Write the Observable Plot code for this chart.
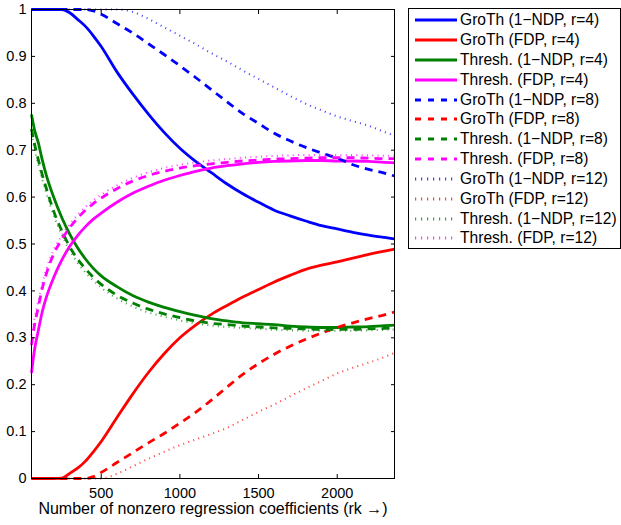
<!DOCTYPE html>
<html>
<head>
<meta charset="utf-8">
<script src="https://cdn.jsdelivr.net/npm/d3@7"></script>
<script src="https://cdn.jsdelivr.net/npm/@observablehq/plot@0.6"></script>
<style>
  html, body { margin: 0; padding: 0; background: white; }
  #wrap { position: relative; width: 621px; height: 525px; overflow: hidden; font-family: "Liberation Sans", Arial, sans-serif; }
  #legend { position: absolute; left: 408px; top: 8px; width: 213px; height: 241px; box-sizing: border-box; border: 1px solid black; background: white; overflow: hidden; }
  .row { position: absolute; left: 0; height: 20px; white-space: nowrap; }
  .row svg { display: block; position: absolute; left: 0; top: 0; }
  .row span { font-size: 15.6px; color: black; position: absolute; left: 51px; top: 0; line-height: 20px; }
</style>
</head>
<body>
<div id="wrap">
  <div id="chart"></div>
  <div id="legend"></div>
</div>
<script>
// x positions (number of nonzero regression coefficients)
const xGrid = [57, 75, 100, 125, 150, 200, 250, 300, 350, 400, 450, 500, 600, 700, 800, 900, 1000, 1100, 1200, 1300, 1400, 1500, 1600, 1700, 1800, 1900, 2000, 2100, 2200, 2300, 2364];

// r = 4
const grothNdp4   = [1, 1, 1, 1, 1, 1, 1, 0.993, 0.979, 0.964, 0.944, 0.921, 0.867, 0.82, 0.777, 0.738, 0.704, 0.676, 0.652, 0.628, 0.607, 0.589, 0.572, 0.56, 0.549, 0.539, 0.532, 0.525, 0.519, 0.514, 0.511];
const grothFdp4   = [0, 0, 0, 0, 0, 0, 0.001, 0.011, 0.022, 0.037, 0.057, 0.079, 0.13, 0.18, 0.226, 0.266, 0.3, 0.327, 0.35, 0.369, 0.387, 0.403, 0.419, 0.433, 0.446, 0.455, 0.462, 0.47, 0.478, 0.485, 0.489];
const threshNdp4  = [0.776, 0.745, 0.716, 0.68, 0.648, 0.598, 0.556, 0.521, 0.492, 0.468, 0.448, 0.432, 0.409, 0.39, 0.376, 0.365, 0.356, 0.348, 0.341, 0.336, 0.332, 0.33, 0.328, 0.325, 0.323, 0.322, 0.322, 0.323, 0.324, 0.326, 0.327];
const threshFdp4  = [0.225, 0.272, 0.315, 0.355, 0.385, 0.43, 0.466, 0.495, 0.518, 0.537, 0.553, 0.566, 0.589, 0.608, 0.623, 0.636, 0.646, 0.655, 0.662, 0.667, 0.671, 0.674, 0.676, 0.677, 0.678, 0.678, 0.677, 0.677, 0.676, 0.674, 0.673];
// r = 8
const grothNdp8   = [1, 1, 1, 1, 1, 1, 1, 1, 1, 1, 0.997, 0.99, 0.97, 0.95, 0.927, 0.904, 0.88, 0.855, 0.829, 0.803, 0.778, 0.757, 0.736, 0.72, 0.706, 0.694, 0.683, 0.669, 0.659, 0.651, 0.645];
const grothFdp8   = [0, 0, 0, 0, 0, 0, 0, 0, 0, 0, 0.004, 0.013, 0.034, 0.055, 0.076, 0.096, 0.118, 0.141, 0.167, 0.195, 0.222, 0.245, 0.265, 0.282, 0.297, 0.31, 0.322, 0.332, 0.341, 0.349, 0.355];
const threshNdp8  = [0.745, 0.715, 0.68, 0.648, 0.62, 0.568, 0.528, 0.494, 0.468, 0.447, 0.429, 0.414, 0.391, 0.374, 0.361, 0.351, 0.343, 0.336, 0.331, 0.328, 0.325, 0.323, 0.321, 0.32, 0.319, 0.318, 0.318, 0.318, 0.319, 0.32, 0.321];
const threshFdp8  = [0.285, 0.325, 0.365, 0.405, 0.435, 0.48, 0.51, 0.535, 0.555, 0.572, 0.586, 0.598, 0.618, 0.634, 0.646, 0.655, 0.662, 0.667, 0.671, 0.674, 0.677, 0.679, 0.681, 0.682, 0.683, 0.684, 0.684, 0.684, 0.683, 0.682, 0.682];
// r = 12
const grothNdp12  = [1, 1, 1, 1, 1, 1, 1, 1, 1, 1, 1, 1, 1, 0.995, 0.98, 0.962, 0.944, 0.926, 0.907, 0.889, 0.87, 0.852, 0.834, 0.816, 0.799, 0.785, 0.772, 0.762, 0.752, 0.739, 0.731];
const grothFdp12  = [0, 0, 0, 0, 0, 0, 0, 0, 0, 0, 0, 0, 0.01, 0.026, 0.042, 0.057, 0.071, 0.083, 0.095, 0.108, 0.125, 0.142, 0.158, 0.175, 0.192, 0.208, 0.224, 0.236, 0.247, 0.259, 0.268];
const threshNdp12 = [0.735, 0.705, 0.67, 0.638, 0.61, 0.559, 0.519, 0.486, 0.46, 0.439, 0.422, 0.407, 0.384, 0.367, 0.354, 0.345, 0.337, 0.331, 0.326, 0.323, 0.321, 0.319, 0.317, 0.316, 0.315, 0.315, 0.315, 0.315, 0.316, 0.317, 0.318];
const threshFdp12 = [0.305, 0.34, 0.378, 0.415, 0.445, 0.489, 0.518, 0.542, 0.562, 0.579, 0.593, 0.605, 0.625, 0.641, 0.653, 0.662, 0.669, 0.674, 0.678, 0.681, 0.684, 0.686, 0.688, 0.689, 0.69, 0.69, 0.69, 0.69, 0.689, 0.688, 0.688];

const seriesNames = [
  "GroTh (1−NDP, r=4)", "GroTh (FDP, r=4)", "Thresh. (1−NDP, r=4)", "Thresh. (FDP, r=4)",
  "GroTh (1−NDP, r=8)", "GroTh (FDP, r=8)", "Thresh. (1−NDP, r=8)", "Thresh. (FDP, r=8)",
  "GroTh (1−NDP, r=12)", "GroTh (FDP, r=12)", "Thresh. (1−NDP, r=12)", "Thresh. (FDP, r=12)"
];
const seriesValues = [grothNdp4, grothFdp4, threshNdp4, threshFdp4, grothNdp8, grothFdp8, threshNdp8, threshFdp8, grothNdp12, grothFdp12, threshNdp12, threshFdp12];
const seriesColors = ["#0000ff", "#ff0000", "#008000", "#ff00ff"];

const xTicks = [500, 1000, 1500, 2000];
const yTicks = [0, 0.1, 0.2, 0.3, 0.4, 0.5, 0.6, 0.7, 0.8, 0.9, 1];
const yTickLabels = ["0", "0.1", "0.2", "0.3", "0.4", "0.5", "0.6", "0.7", "0.8", "0.9", "1"];
const xLabel = "Number of nonzero regression coefficients (rk →)";

// line styles per r group: solid, dashed, dotted
const styles = [
  {strokeWidth: 2.8, strokeDasharray: null, legendDash: null, strokeOpacity: 1, legendWidth: 2.8},
  {strokeWidth: 2.8, strokeDasharray: "8,6", legendDash: "6,7", strokeOpacity: 1, legendWidth: 2.8},
  {strokeWidth: 2, strokeDasharray: "1,4.3", legendDash: "1.2,4.8", strokeOpacity: 0.75, legendWidth: 3}
];

const series = seriesNames.map((name, i) => ({
  name,
  color: seriesColors[i % 4],
  style: styles[Math.floor(i / 4)],
  rows: seriesValues[i].map((v, j) => ({x: xGrid[j], y: v}))
}));

const lineMarks = series.map(s => Plot.line(s.rows, {
  x: "x", y: "y", stroke: s.color, curve: "monotone-x",
  strokeWidth: s.style.strokeWidth,
  strokeDasharray: s.style.strokeDasharray,
  strokeOpacity: s.style.strokeOpacity,
  strokeLinecap: "butt", strokeLinejoin: "round"
}));

const chart = Plot.plot({
  width: 621, height: 525,
  marginLeft: 31, marginRight: 227, marginTop: 9, marginBottom: 47,
  x: {domain: [57, 2364]},
  y: {domain: [0, 1]},
  style: {fontFamily: "'Liberation Sans', Arial, sans-serif", fontSize: "14.5px", color: "black", background: "white", overflow: "visible"},
  marks: [
    ...lineMarks,
    Plot.frame({stroke: "black", strokeWidth: 1}),
    Plot.axisX(xTicks, {anchor: "bottom", tickSize: -4, tickPadding: 13, tickFormat: d => String(d), label: xLabel, labelAnchor: "center", labelOffset: 35, labelArrow: "none"}),
    Plot.axisX(xTicks, {anchor: "top", tickSize: -4, tickFormat: () => "", label: null}),
    Plot.axisY(yTicks, {anchor: "left", tickSize: -4, tickPadding: 9, tickFormat: d => yTickLabels[yTicks.indexOf(d)], label: null}),
    Plot.axisY(yTicks, {anchor: "right", tickSize: -4, tickFormat: () => "", label: null})
  ]
});
document.getElementById("chart").appendChild(chart);

// x-axis label font a bit larger, as in the reference
chart.querySelectorAll("g[aria-label='x-axis label'] text").forEach(t => t.setAttribute("font-size", "16"));

// legend
const legend = document.getElementById("legend");
series.forEach((s, i) => {
  const row = document.createElement("div");
  row.className = "row";
  row.style.top = (1.1 + i * 19.85) + "px";
  row.style.width = "211px";
  const svg = d3.create("svg").attr("width", 50).attr("height", 20);
  svg.append("line")
    .attr("x1", 6).attr("x2", 48).attr("y1", 10).attr("y2", 10)
    .attr("stroke", s.color)
    .attr("stroke-width", s.style.legendWidth)
    .attr("stroke-opacity", s.style.strokeOpacity)
    .attr("stroke-dasharray", s.style.legendDash);
  row.appendChild(svg.node());
  const label = document.createElement("span");
  label.textContent = s.name;
  row.appendChild(label);
  legend.appendChild(row);
});
</script>
</body>
</html>
